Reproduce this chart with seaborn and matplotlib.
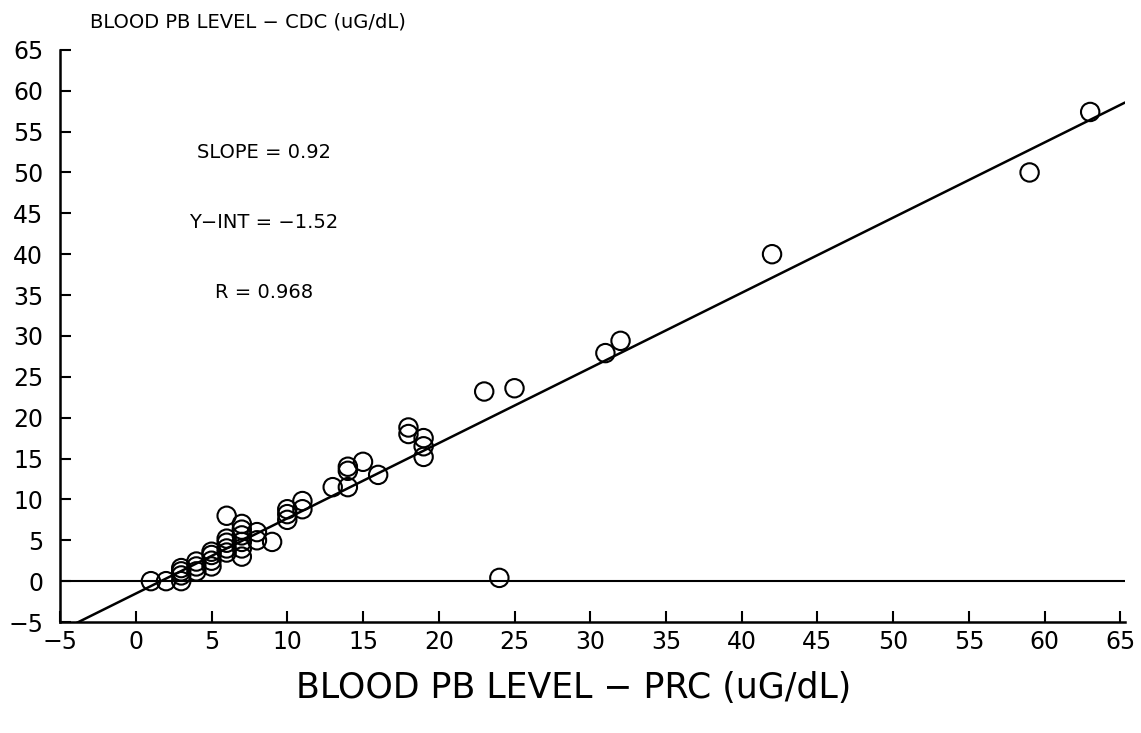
import numpy as np
import pandas as pd
import matplotlib
matplotlib.use("Agg")
import matplotlib.pyplot as plt
import seaborn as sns

# Blood Pb readings: PRC (x) vs CDC (y), in uG/dL
prc = [1, 2, 3, 3, 3, 3, 4, 4, 4, 5, 5, 5, 5, 6, 6, 6, 6, 6,
       7, 7, 7, 7, 7, 7, 8, 8, 9, 10, 10, 10, 11, 11, 13, 14, 14, 14,
       15, 16, 18, 18, 19, 19, 19, 23, 24, 25, 31, 32, 42, 59, 63]
cdc = [0, 0, 0, 0.7, 1.2, 1.6, 1.2, 1.8, 2.4, 1.8, 2.5, 3.2, 3.6,
       3.5, 4.0, 4.7, 5.2, 8.0, 3.0, 4.0, 4.8, 5.6, 6.3, 7.0, 5.0, 6.0,
       4.8, 7.5, 8.2, 8.8, 8.8, 9.8, 11.5, 11.5, 13.5, 14.0, 14.6, 13.0,
       18.0, 18.8, 15.2, 16.5, 17.5, 23.2, 0.4, 23.6, 27.9, 29.4, 40.0,
       50.0, 57.4]

slope = 0.92
y_int = -1.52
r_value = 0.968

ticks = list(range(-5, 70, 5))

df = pd.DataFrame({"prc": prc, "cdc": cdc})

sns.set_style("ticks", {"xtick.direction": "in", "ytick.direction": "in"})
plt.rcParams["font.family"] = ["DejaVu Sans"]
plt.rcParams["text.color"] = "black"
plt.rcParams["xtick.color"] = "black"
plt.rcParams["ytick.color"] = "black"
plt.rcParams["axes.edgecolor"] = "black"

fig = plt.figure(figsize=(11.41, 7.33), dpi=100)
ax = fig.add_axes([0.0526, 0.1514, 0.9334, 0.7806])

sns.scatterplot(data=df, x="prc", y="cdc", ax=ax, s=175, marker="o",
                facecolor="none", edgecolor="black", linewidth=1.5, zorder=3)

# fitted line and zero reference
xs = np.array([-5, 65.3])
sns.lineplot(x=xs, y=slope * xs + y_int, ax=ax, color="black", linewidth=1.8)
ax.axhline(0, color="black", linewidth=1.5)

ax.set_xlim(-5, 65.3)
ax.set_ylim(-5, 65)
ax.set_xticks(ticks)
ax.set_yticks(ticks)
ax.tick_params(direction="in", length=8, width=1.5, labelsize=17,
               labelcolor="black", pad=6)
ax.tick_params(axis="y", pad=12)
for sp in ["left", "bottom"]:
    ax.spines[sp].set_linewidth(1.8)
sns.despine(ax=ax)
ax.set_xlabel("")
ax.set_ylabel("")

fig.text(0.079, 0.97, "BLOOD PB LEVEL \u2212 CDC (uG/dL)", fontsize=14,
         ha="left", va="center", color="black")
fig.text(0.503, 0.061, "BLOOD PB LEVEL \u2212 PRC (uG/dL)", fontsize=25,
         ha="center", va="center", color="black")

ax.text(8.45, 52.5, f"SLOPE = {slope}", fontsize=14, ha="center", va="center")
ax.text(8.45, 43.9, f"Y\u2212INT = \u2212{abs(y_int)}", fontsize=14, ha="center", va="center")
ax.text(8.5, 35.3, f"R = {r_value}", fontsize=14, ha="center", va="center")

fig.savefig("out.png", dpi=100)
